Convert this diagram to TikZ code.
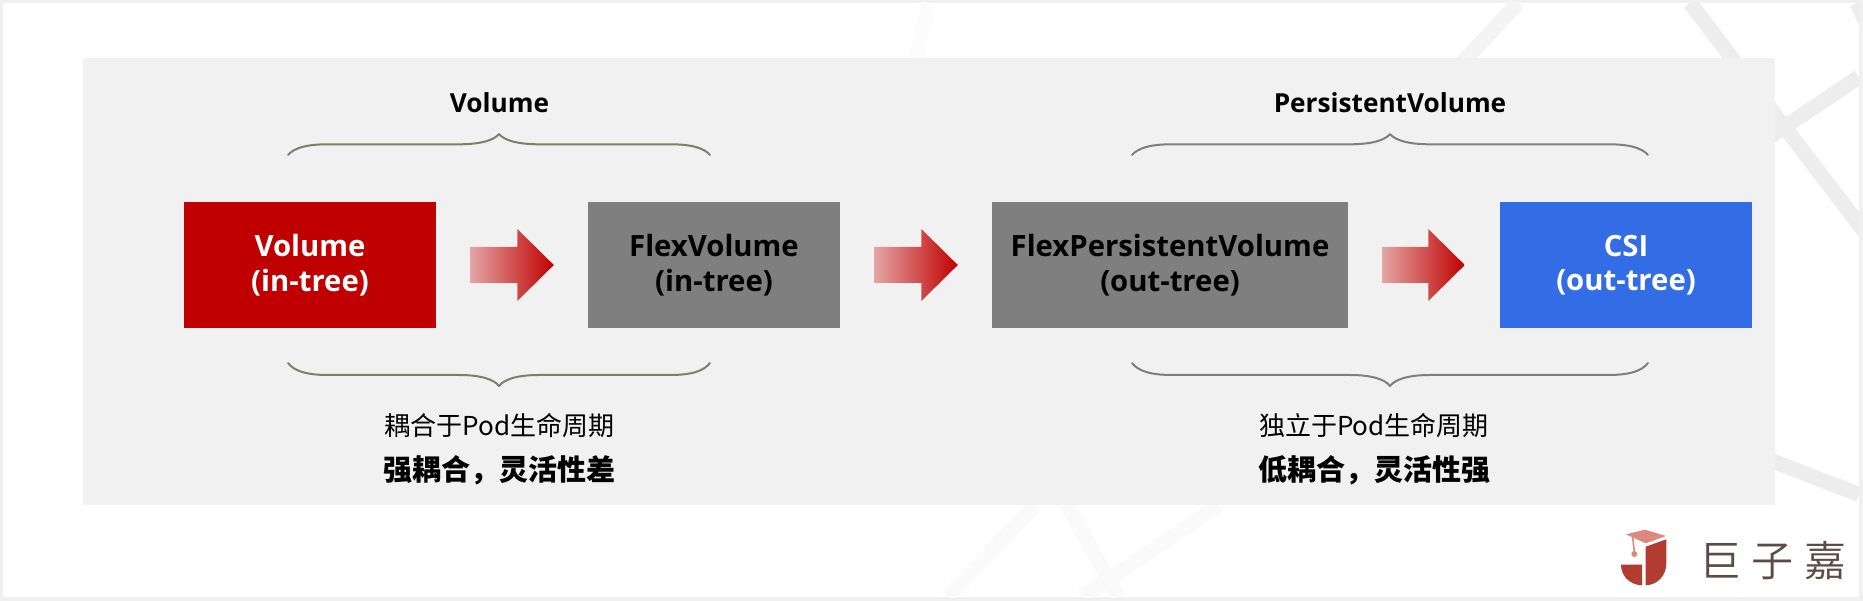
\documentclass[tikz,border=0pt]{standalone}
\usepackage{fontspec}
\usetikzlibrary{calc}
\setmainfont{Open Sans}
\newfontfamily\cjk{Noto Sans CJK SC}
\newfontfamily\logofont{Noto Sans CJK SC DemiLight}
\definecolor{edgegray}{HTML}{F0F0F0}
\definecolor{panelgray}{HTML}{F1F1F1}
\definecolor{boxred}{HTML}{C00000}
\definecolor{boxgray}{HTML}{7F7F7F}
\definecolor{boxblue}{HTML}{336DE6}
\definecolor{arrowpale}{HTML}{E3A5A5}
\definecolor{braceolive}{HTML}{7F7F68}
\definecolor{logored}{HTML}{B33C30}
\definecolor{logopink}{HTML}{DC8A80}
\definecolor{logotext}{HTML}{5B4A48}
\definecolor{bandstrong}{HTML}{EDEDED}
\definecolor{bandmid}{HTML}{F4F4F4}
\definecolor{bandfaint}{HTML}{FAFAFA}
\definecolor{bandfaintest}{HTML}{FCFCFC}
\tikzset{
  stagebox/.style={inner sep=0pt,minimum height=126pt,align=center,
    font=\fontsize{29.3}{34.5}\selectfont\bfseries},
  toplabel/.style={inner sep=0pt,font=\fontsize{26.2}{30}\selectfont\bfseries,text=black},
  notelabel/.style={inner sep=0pt,font=\cjk\fontsize{26}{30}\selectfont,text=black},
  boldlabel/.style={inner sep=0pt,font=\cjk\fontsize{29}{34}\selectfont\bfseries,text=black},
  band/.style={line width=15pt,line cap=butt},
  bracket/.style={line width=2pt,line cap=round,line join=round},
}
% brace: x-left, x-mid, x-right, y-end, y-bar, y-tip
\newcommand{\brc}[7]{%
  \draw[bracket,#7] (#1,#4) .. controls ({#1+6},{#5+(#4-#5)*0.35}) and ({#1+18},#5) .. ({#1+40},#5)
    -- ({#2-40},#5) .. controls ({#2-18},#5) and ({#2-5},{#5+(#6-#5)*0.4}) .. (#2,#6)
    .. controls ({#2+5},{#5+(#6-#5)*0.4}) and ({#2+18},#5) .. ({#2+40},#5)
    -- ({#3-40},#5) .. controls ({#3-18},#5) and ({#3-6},{#5+(#4-#5)*0.35}) .. (#3,#4);}
% gradient block arrow in the gap between two named boxes; #3 = gap before the next box
\newcommand{\blockarrow}[3]{%
  \path[left color=arrowpale,right color=boxred]
    ($(#1.east)+(34,-18)$) -- ($(#2.west)+(-#3-36.5,-18)$) -- ($(#2.west)+(-#3-36.5,-36)$)
    -- ($(#2.west)+(-#3,0)$) -- ($(#2.west)+(-#3-36.5,36)$) -- ($(#2.west)+(-#3-36.5,18)$)
    -- ($(#1.east)+(34,18)$) -- cycle;}
\begin{document}
\begin{tikzpicture}[x=1pt,y=-1pt]
\useasboundingbox (0,0) rectangle (1863,601);
\fill[edgegray] (0,0) rectangle (1863,601);
\fill[white] (2.5,3) rectangle (1859,597);
\begin{scope}
  \clip (2.5,3) rectangle (1859,597);
  \draw[band,color=bandstrong]  (1690,3) -- (1870,239);
  \draw[band,color=bandstrong]  (1859,77) -- (1700,184);
  \draw[band,color=bandstrong]  (1859,494.5) -- (1700,433);
  \draw[band,color=bandstrong]  (1857,3) -- (1880,52);
  \draw[band,color=bandmid]  (1518,3) -- (1420,108);
  \draw[band,color=bandfaint]  (1035.5,505) -- (947.5,597);
  \draw[band,color=bandfaint]  (1067,505) -- (1118.5,597);
  \draw[band,color=bandfaint]  (1219,505) -- (1082,597);
  \draw[band,color=bandfaintest]  (929,3) -- (915,58);
\end{scope}
\fill[panelgray] (83,58) rectangle (1775,505);

\node[stagebox,fill=boxred,text=white,minimum width=252pt] (vol) at (310,265) {Volume\\(in-tree)};
\node[stagebox,fill=boxgray,text=black,minimum width=252pt] (flex) at (714,265) {FlexVolume\\(in-tree)};
\node[stagebox,fill=boxgray,text=black,minimum width=356pt] (fpv) at (1170,265) {FlexPersistentVolume\\(out-tree)};
\node[stagebox,fill=boxblue,text=white,minimum width=252pt] (csi) at (1626,265) {CSI\\(out-tree)};

\blockarrow{vol}{flex}{34}
\blockarrow{flex}{fpv}{34}
\blockarrow{fpv}{csi}{35}

\brc{288}{499}{710}{155}{144.3}{134}{braceolive}
\brc{288}{499}{710}{363}{375}{386}{braceolive}
\brc{1132}{1390}{1648}{155}{144.3}{134}{boxgray}
\brc{1132}{1390}{1648}{363}{375}{386}{boxgray}

\node[toplabel] (tvol) at (499.5,103) {Volume};
\node[toplabel] (tpv) at (1390,103) {PersistentVolume};
\node[notelabel] (n1) at (499.5,426) {耦合于Pod生命周期};
\node[boldlabel] (b1) at (499.5,470) {强耦合，灵活性差};
\node[notelabel] (n2) at (1374,426) {独立于Pod生命周期};
\node[boldlabel] (b2) at (1374,470) {低耦合，灵活性强};

% logo
\fill[logopink] (1626,534.3) -- (1645,529.7) -- (1666,536) -- (1645.7,543.3) -- cycle;
\draw[logopink,line width=1.6pt] (1632.7,537) -- (1634.3,552);
\fill[logopink] (1634.3,554) circle (3);
\fill[logored] (1645.7,546.7) -- (1666.3,539.3) -- (1666.3,563.3)
  .. controls (1666.3,576) and (1657,585) .. (1645.7,585.3) -- cycle;
\fill[logored] (1621,564.7) -- (1642,564.7) -- (1642,585.3)
  .. controls (1630,585) and (1621,576) .. (1621,564.7) -- cycle;
\node[inner sep=0pt,text=logotext,font=\logofont\fontsize{42}{46}\selectfont] (logo) at (1772.5,560.7)
  {巨\hspace{10.5pt}子\hspace{10.5pt}嘉};
\end{tikzpicture}
\end{document}
